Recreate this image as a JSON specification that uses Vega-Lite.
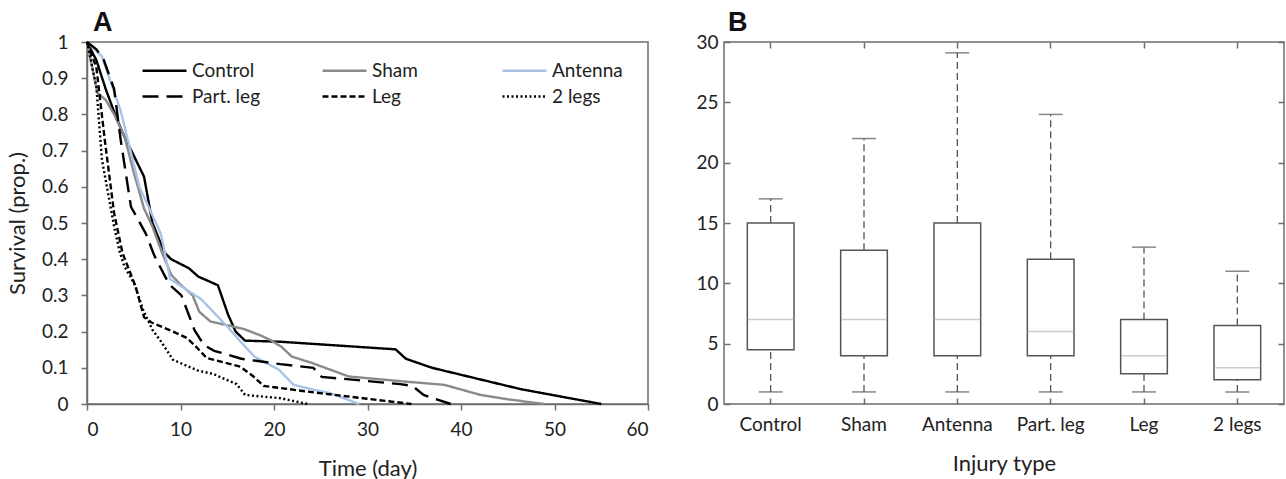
{
  "$schema": "https://vega.github.io/schema/vega-lite/v6.json",
  "padding": {"left": 5, "top": 8, "right": 0, "bottom": 0},
  "background": "white",
  "spacing": 45,
  "config": {
    "font": "Lato",
    "view": {"stroke": "#6e6e6e", "strokeWidth": 1.5},
    "axis": {
      "labelFont": "Lato", "labelFontSize": 19, "labelColor": "#222",
      "titleFont": "Lato", "titleFontSize": 22, "titleFontWeight": "normal", "titleColor": "#222",
      "domainColor": "#6e6e6e", "domainWidth": 1.5, "tickColor": "#6e6e6e", "tickWidth": 1.5, "grid": false
    },
    "title": {"font": "Liberation Sans", "fontSize": 27, "fontWeight": "bold", "anchor": "start", "frame": "group", "color": "#111"}
  },
  "datasets": {
    "surv": [
      {"g": "Control", "t": 0, "s": 1}, {"g": "Control", "t": 1, "s": 0.95}, {"g": "Control", "t": 2, "s": 0.87}, {"g": "Control", "t": 3, "s": 0.8}, {"g": "Control", "t": 3.8, "s": 0.75}, {"g": "Control", "t": 6.1, "s": 0.628}, {"g": "Control", "t": 7, "s": 0.5}, {"g": "Control", "t": 8.3, "s": 0.418}, {"g": "Control", "t": 9, "s": 0.4}, {"g": "Control", "t": 10.9, "s": 0.375}, {"g": "Control", "t": 11.9, "s": 0.352}, {"g": "Control", "t": 14, "s": 0.328}, {"g": "Control", "t": 15.1, "s": 0.246}, {"g": "Control", "t": 15.9, "s": 0.2}, {"g": "Control", "t": 16.9, "s": 0.175}, {"g": "Control", "t": 20.7, "s": 0.172}, {"g": "Control", "t": 33, "s": 0.151}, {"g": "Control", "t": 34.1, "s": 0.125}, {"g": "Control", "t": 36.9, "s": 0.1}, {"g": "Control", "t": 41.4, "s": 0.072}, {"g": "Control", "t": 46.4, "s": 0.041}, {"g": "Control", "t": 55, "s": 0},
      {"g": "Sham", "t": 0, "s": 1}, {"g": "Sham", "t": 1.1, "s": 0.86}, {"g": "Sham", "t": 2, "s": 0.84}, {"g": "Sham", "t": 2.9, "s": 0.8}, {"g": "Sham", "t": 4, "s": 0.74}, {"g": "Sham", "t": 5, "s": 0.64}, {"g": "Sham", "t": 6.1, "s": 0.54}, {"g": "Sham", "t": 7, "s": 0.49}, {"g": "Sham", "t": 8, "s": 0.42}, {"g": "Sham", "t": 9, "s": 0.357}, {"g": "Sham", "t": 10, "s": 0.33}, {"g": "Sham", "t": 11.3, "s": 0.3}, {"g": "Sham", "t": 12, "s": 0.255}, {"g": "Sham", "t": 13.2, "s": 0.228}, {"g": "Sham", "t": 16.8, "s": 0.207}, {"g": "Sham", "t": 18.5, "s": 0.19}, {"g": "Sham", "t": 19.6, "s": 0.177}, {"g": "Sham", "t": 20.8, "s": 0.158}, {"g": "Sham", "t": 21.9, "s": 0.131}, {"g": "Sham", "t": 24.1, "s": 0.113}, {"g": "Sham", "t": 28, "s": 0.076}, {"g": "Sham", "t": 34, "s": 0.062}, {"g": "Sham", "t": 38.2, "s": 0.053}, {"g": "Sham", "t": 42.1, "s": 0.025}, {"g": "Sham", "t": 45, "s": 0.013}, {"g": "Sham", "t": 48.9, "s": 0},
      {"g": "Antenna", "t": 0, "s": 1}, {"g": "Antenna", "t": 1.6, "s": 0.96}, {"g": "Antenna", "t": 3.6, "s": 0.81}, {"g": "Antenna", "t": 5.6, "s": 0.6}, {"g": "Antenna", "t": 7.9, "s": 0.47}, {"g": "Antenna", "t": 8.9, "s": 0.345}, {"g": "Antenna", "t": 10.5, "s": 0.318}, {"g": "Antenna", "t": 12.2, "s": 0.29}, {"g": "Antenna", "t": 15, "s": 0.214}, {"g": "Antenna", "t": 16.5, "s": 0.17}, {"g": "Antenna", "t": 17.9, "s": 0.131}, {"g": "Antenna", "t": 20.5, "s": 0.095}, {"g": "Antenna", "t": 22.1, "s": 0.053}, {"g": "Antenna", "t": 24.3, "s": 0.039}, {"g": "Antenna", "t": 26, "s": 0.03}, {"g": "Antenna", "t": 29.1, "s": 0},
      {"g": "Part. leg", "t": 0, "s": 1}, {"g": "Part. leg", "t": 1, "s": 0.98}, {"g": "Part. leg", "t": 1.8, "s": 0.95}, {"g": "Part. leg", "t": 2.9, "s": 0.87}, {"g": "Part. leg", "t": 3.6, "s": 0.73}, {"g": "Part. leg", "t": 4.7, "s": 0.545}, {"g": "Part. leg", "t": 6.3, "s": 0.47}, {"g": "Part. leg", "t": 7.2, "s": 0.41}, {"g": "Part. leg", "t": 8.8, "s": 0.33}, {"g": "Part. leg", "t": 10.1, "s": 0.3}, {"g": "Part. leg", "t": 11.5, "s": 0.204}, {"g": "Part. leg", "t": 12.5, "s": 0.163}, {"g": "Part. leg", "t": 13.6, "s": 0.147}, {"g": "Part. leg", "t": 16.5, "s": 0.125}, {"g": "Part. leg", "t": 20.7, "s": 0.11}, {"g": "Part. leg", "t": 24.2, "s": 0.1}, {"g": "Part. leg", "t": 25.1, "s": 0.075}, {"g": "Part. leg", "t": 33.5, "s": 0.055}, {"g": "Part. leg", "t": 34.8, "s": 0.05}, {"g": "Part. leg", "t": 36, "s": 0.025}, {"g": "Part. leg", "t": 38.9, "s": 0},
      {"g": "Leg", "t": 0, "s": 1}, {"g": "Leg", "t": 1, "s": 0.93}, {"g": "Leg", "t": 1.9, "s": 0.73}, {"g": "Leg", "t": 2.9, "s": 0.527}, {"g": "Leg", "t": 3.8, "s": 0.417}, {"g": "Leg", "t": 5.2, "s": 0.324}, {"g": "Leg", "t": 6.1, "s": 0.24}, {"g": "Leg", "t": 6.9, "s": 0.225}, {"g": "Leg", "t": 9.2, "s": 0.2}, {"g": "Leg", "t": 10.7, "s": 0.182}, {"g": "Leg", "t": 11.6, "s": 0.16}, {"g": "Leg", "t": 12.8, "s": 0.127}, {"g": "Leg", "t": 16.4, "s": 0.103}, {"g": "Leg", "t": 17.8, "s": 0.076}, {"g": "Leg", "t": 18.9, "s": 0.05}, {"g": "Leg", "t": 20.7, "s": 0.044}, {"g": "Leg", "t": 24.9, "s": 0.03}, {"g": "Leg", "t": 29.5, "s": 0.016}, {"g": "Leg", "t": 34.7, "s": 0},
      {"g": "2 legs", "t": 0, "s": 1}, {"g": "2 legs", "t": 1, "s": 0.877}, {"g": "2 legs", "t": 1.6, "s": 0.675}, {"g": "2 legs", "t": 2.9, "s": 0.49}, {"g": "2 legs", "t": 3.5, "s": 0.42}, {"g": "2 legs", "t": 4, "s": 0.38}, {"g": "2 legs", "t": 5.1, "s": 0.33}, {"g": "2 legs", "t": 6, "s": 0.26}, {"g": "2 legs", "t": 7, "s": 0.205}, {"g": "2 legs", "t": 7.8, "s": 0.177}, {"g": "2 legs", "t": 9.2, "s": 0.122}, {"g": "2 legs", "t": 11.9, "s": 0.092}, {"g": "2 legs", "t": 13.5, "s": 0.083}, {"g": "2 legs", "t": 14.2, "s": 0.075}, {"g": "2 legs", "t": 16, "s": 0.055}, {"g": "2 legs", "t": 16.9, "s": 0.025}, {"g": "2 legs", "t": 20.7, "s": 0.016}, {"g": "2 legs", "t": 23.6, "s": 0}
    ],
    "box": [
      {"type": "Control", "lo": 1, "q1": 4.5, "med": 7, "q3": 15, "hi": 17},
      {"type": "Sham", "lo": 1, "q1": 4, "med": 7, "q3": 12.75, "hi": 22},
      {"type": "Antenna", "lo": 1, "q1": 4, "med": 7, "q3": 15, "hi": 29.1},
      {"type": "Part. leg", "lo": 1, "q1": 4, "med": 6, "q3": 12, "hi": 24},
      {"type": "Leg", "lo": 1, "q1": 2.5, "med": 4, "q3": 7, "hi": 13},
      {"type": "2 legs", "lo": 1, "q1": 2, "med": 3, "q3": 6.5, "hi": 11}
    ]
  },
  "hconcat": [
    {
      "width": 561,
      "height": 362,
      "title": {"text": "A", "dx": 6, "offset": -4},
      "data": {"name": "surv"},
      "mark": {"type": "line", "strokeWidth": 2.4},
      "encoding": {
        "x": {"field": "t", "type": "quantitative", "scale": {"domain": [0, 60], "nice": false},
              "axis": {"values": [0, 10, 20, 30, 40, 50, 60], "title": "Time (day)", "tickSize": 6, "labelPadding": 10, "titlePadding": 19}},
        "y": {"field": "s", "type": "quantitative", "scale": {"domain": [0, 1], "nice": false},
              "axis": {"values": [0, 0.1, 0.2, 0.3, 0.4, 0.5, 0.6, 0.7, 0.8, 0.9, 1], "format": "~g", "title": "Survival (prop.)", "tickSize": 6, "labelPadding": 13, "titlePadding": 12}},
        "color": {"field": "g", "type": "nominal",
                  "scale": {"domain": ["Control", "Part. leg", "Sham", "Leg", "Antenna", "2 legs"], "range": ["#000000", "#000000", "#8a8a8a", "#000000", "#a9c3e6", "#000000"]},
                  "legend": {"title": null, "orient": "none", "legendX": 54, "legendY": 16, "columns": 3, "symbolType": "M-2,0H2", "symbolSize": 484, "symbolOffset": 11, "symbolStrokeWidth": 2.6, "labelFontSize": 19, "labelColor": "#222", "labelOffset": 15, "gridAlign": "all", "columnPadding": 54, "rowPadding": 3}},
        "strokeDash": {"field": "g", "type": "nominal",
                  "scale": {"domain": ["Control", "Part. leg", "Sham", "Leg", "Antenna", "2 legs"], "range": [[1, 0], [16, 8], [1, 0], [6, 3], [1, 0], [2, 2.5]]},
                  "legend": {"title": null, "orient": "none", "legendX": 54, "legendY": 16, "columns": 3, "symbolType": "M-2,0H2", "symbolSize": 484, "symbolOffset": 11, "symbolStrokeWidth": 2.6, "labelFontSize": 19, "labelColor": "#222", "labelOffset": 15, "gridAlign": "all", "columnPadding": 54, "rowPadding": 3}}
      }
    },
    {
      "width": 560,
      "height": 362,
      "title": {"text": "B", "dx": 4, "offset": -4},
      "data": {"name": "box"},
      "resolve": {"scale": {"x": "independent", "y": "independent"}, "axis": {"x": "independent", "y": "independent"}},
      "layer": [
        {
          "layer": [
            {
              "mark": {"type": "rule", "color": "#555555", "strokeWidth": 1.3, "strokeDash": [7, 4]},
              "encoding": {
                "x": {"field": "type", "type": "nominal", "sort": null,
                      "scale": {"type": "band", "domain": ["Control", "Sham", "Antenna", "Part. leg", "Leg", "2 legs"], "paddingInner": 0, "paddingOuter": 0},
                      "axis": {"orient": "bottom", "title": "Injury type", "labelAngle": 0, "tickSize": -6, "labelPadding": 17, "titlePadding": 19, "domain": false}},
                "y": {"field": "lo", "type": "quantitative", "scale": {"domain": [0, 30], "nice": false},
                      "axis": {"orient": "left", "values": [0, 5, 10, 15, 20, 25, 30], "title": null, "tickSize": -6, "labelPadding": 12, "domain": false}},
                "y2": {"field": "q1"}
              }
            },
            {
              "mark": {"type": "rule", "color": "#555555", "strokeWidth": 1.3, "strokeDash": [7, 4]},
              "encoding": {
                "x": {"field": "type", "type": "nominal", "sort": null},
                "y": {"field": "q3", "type": "quantitative"},
                "y2": {"field": "hi"}
              }
            },
            {
              "mark": {"type": "tick", "color": "#555555", "thickness": 1.5, "size": 24},
              "encoding": {
                "x": {"field": "type", "type": "nominal", "sort": null},
                "y": {"field": "lo", "type": "quantitative"}
              }
            },
            {
              "mark": {"type": "tick", "color": "#555555", "thickness": 1.5, "size": 24},
              "encoding": {
                "x": {"field": "type", "type": "nominal", "sort": null},
                "y": {"field": "hi", "type": "quantitative"}
              }
            },
            {
              "mark": {"type": "bar", "fill": "white", "stroke": "#555555", "strokeWidth": 1.5, "width": {"band": 0.5}},
              "encoding": {
                "x": {"field": "type", "type": "nominal", "sort": null},
                "y": {"field": "q1", "type": "quantitative"},
                "y2": {"field": "q3"}
              }
            },
            {
              "mark": {"type": "tick", "color": "#b8b8b8", "thickness": 1.5, "size": 46},
              "encoding": {
                "x": {"field": "type", "type": "nominal", "sort": null},
                "y": {"field": "med", "type": "quantitative"}
              }
            }
          ]
        },
        {
          "mark": {"type": "tick", "opacity": 0},
          "encoding": {
            "x": {"field": "type", "type": "nominal", "sort": null,
                  "scale": {"type": "band", "domain": ["Control", "Sham", "Antenna", "Part. leg", "Leg", "2 legs"], "paddingInner": 0, "paddingOuter": 0},
                  "axis": {"orient": "top", "labels": false, "title": null, "tickSize": -6, "domain": false}},
            "y": {"field": "med", "type": "quantitative", "scale": {"domain": [0, 30], "nice": false},
                  "axis": {"orient": "right", "values": [0, 5, 10, 15, 20, 25, 30], "labels": false, "title": null, "tickSize": -6, "domain": false}}
          }
        }
      ]
    }
  ]
}
